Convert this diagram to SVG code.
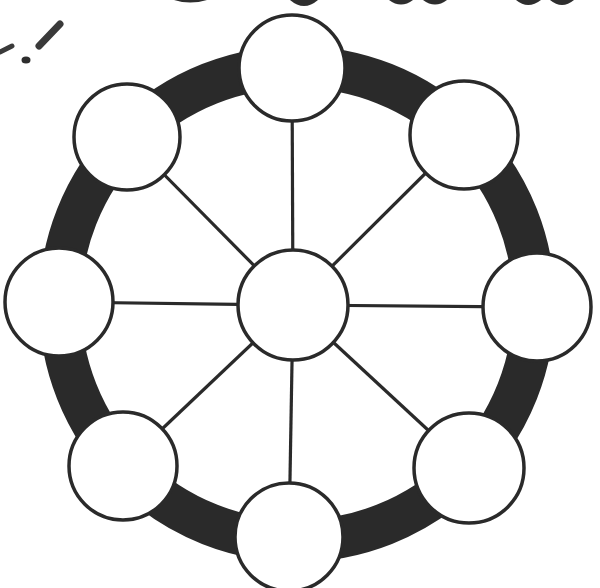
<svg xmlns="http://www.w3.org/2000/svg" width="600" height="588" viewBox="0 0 600 588">
<style>
.node{fill:#fff;stroke:#2a2a2a;stroke-width:3.5}
.spoke{stroke:#2a2a2a;stroke-width:3.2;fill:none}
.ink{fill:#2e2e2e}
</style>
<rect width="600" height="588" fill="#fff"/>
<g id="marks">
<line x1="60" y1="24" x2="39" y2="46" stroke="#3a3a3a" stroke-width="7" stroke-linecap="round"/>
<line x1="0" y1="52" x2="12" y2="46" stroke="#3a3a3a" stroke-width="5" stroke-linecap="round"/>
<ellipse cx="26" cy="60" rx="4.5" ry="3.5" class="ink"/>
<path class="ink" d="M174 0 Q190 5 207 0 Z"/>
<path class="ink" d="M290 0 Q304 12 318 0 Z"/>
<path class="ink" d="M389 0 Q401 9 413 0 Z"/>
<path class="ink" d="M423 0 Q435 9 447 0 Z"/>
<path class="ink" d="M516 0 Q528 10 541 0 Z"/>
<path class="ink" d="M550 0 Q562 10 574 0 Z"/>
</g>
<g id="ring">
<circle cx="297" cy="304" r="237" fill="none" stroke="#2a2a2a" stroke-width="42"/>
</g>
<g id="connectors">
<line class="spoke" x1="293" y1="305" x2="292" y2="68"/>
<line class="spoke" x1="293" y1="305" x2="127" y2="137"/>
<line class="spoke" x1="293" y1="305" x2="464" y2="135"/>
<line class="spoke" x1="293" y1="305" x2="59" y2="302"/>
<line class="spoke" x1="293" y1="305" x2="537" y2="307"/>
<line class="spoke" x1="293" y1="305" x2="123" y2="466"/>
<line class="spoke" x1="293" y1="305" x2="469" y2="468"/>
<line class="spoke" x1="293" y1="305" x2="289" y2="537"/>
</g>
<g id="node-top"><circle class="node" cx="292" cy="68" r="53"/></g>
<g id="node-top-left"><circle class="node" cx="127" cy="137" r="53"/></g>
<g id="node-top-right"><circle class="node" cx="464" cy="135" r="54"/></g>
<g id="node-left"><circle class="node" cx="59" cy="302" r="54"/></g>
<g id="node-right"><circle class="node" cx="537" cy="307" r="54"/></g>
<g id="node-bottom-left"><circle class="node" cx="123" cy="466" r="54"/></g>
<g id="node-bottom-right"><circle class="node" cx="469" cy="468" r="55"/></g>
<g id="node-bottom"><circle class="node" cx="289" cy="537" r="54"/></g>
<g id="node-center"><circle class="node" cx="293" cy="305" r="55"/></g>
</svg>
